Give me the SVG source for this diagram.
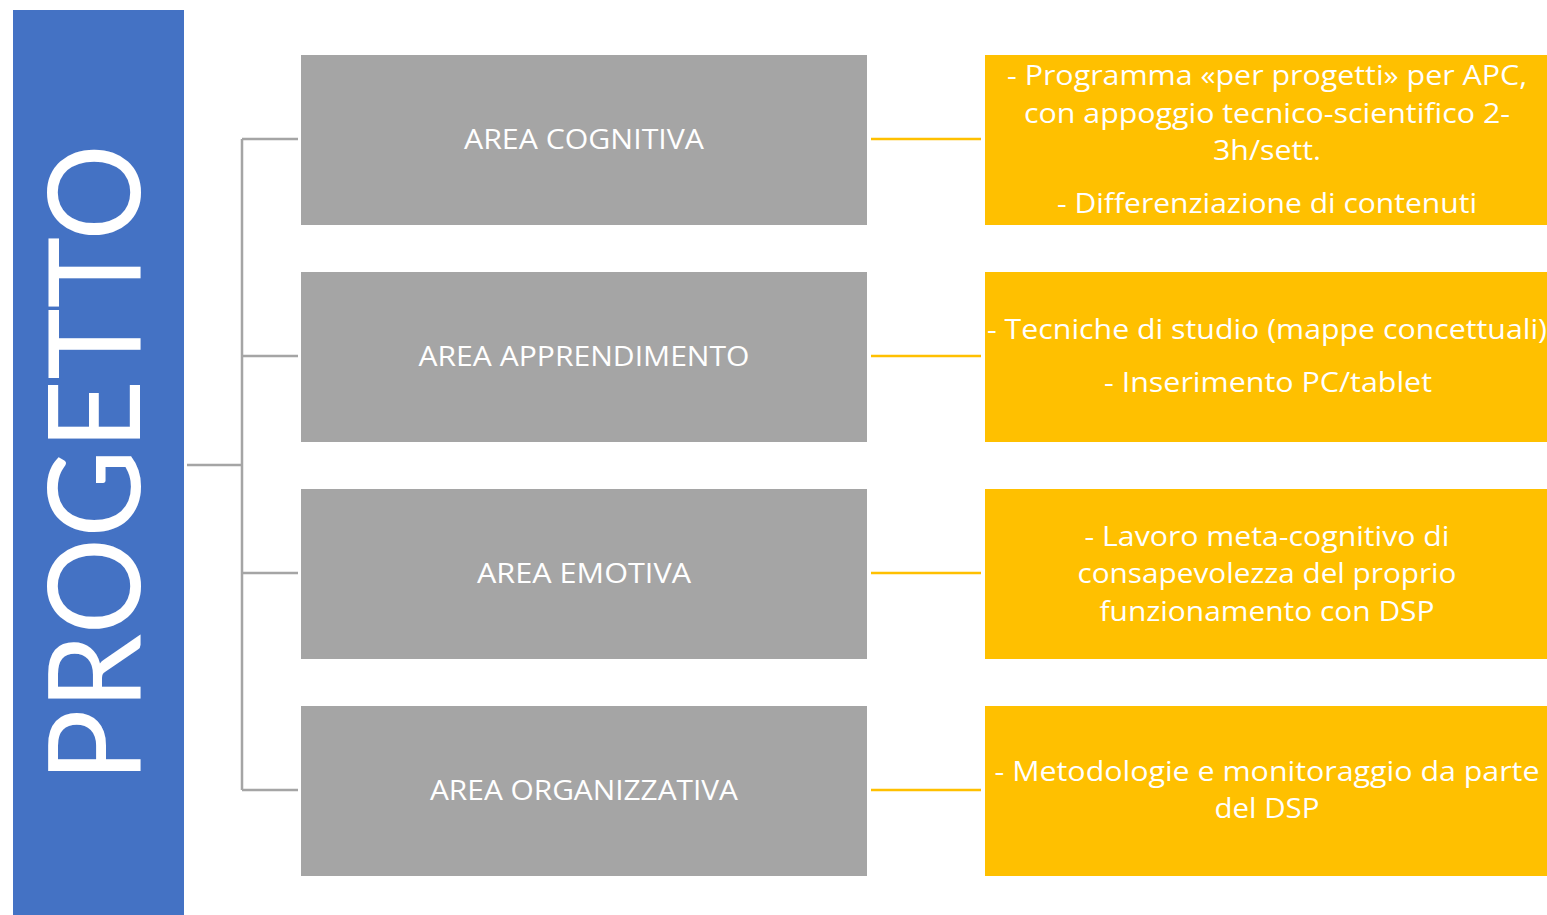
<svg xmlns="http://www.w3.org/2000/svg" width="1547" height="915" viewBox="0 0 1547 915">
<style>
.g{fill:#a5a5a5}
.y{fill:#ffc000}
.t{font-family:"Open Sans","Noto Sans","Liberation Sans",sans-serif;font-size:27px;fill:#ffffff;text-anchor:middle}
.cg{stroke:#a5a5a5;stroke-width:2.5;fill:none}
.cy{stroke:#ffc000;stroke-width:2.5;fill:none}
</style>
<rect width="1547" height="915" fill="#ffffff"/>
<g id="progetto">
<rect x="13" y="10" width="171" height="905" fill="#4472c4"/>
<text transform="translate(140,463) rotate(-90)" text-anchor="middle" font-family="Lato,'Open Sans',sans-serif" font-size="128" fill="#ffffff" textLength="638" lengthAdjust="spacingAndGlyphs">PROGETTO</text>
</g>
<g id="connectors">
<path class="cg" d="M187 465H242M242 139V790M242 139H298M242 356H298M242 573H298M242 790H298"/>
<path class="cy" d="M871 139H981M871 356H981M871 573H981M871 790H981"/>
</g>
<g id="area-cognitiva">
<rect class="g" x="301" y="55" width="566" height="170"/>
<text class="t" x="584" y="149" textLength="240" lengthAdjust="spacingAndGlyphs">AREA COGNITIVA</text>
</g>
<g id="area-apprendimento">
<rect class="g" x="301" y="272" width="566" height="170"/>
<text class="t" x="584" y="366" textLength="331" lengthAdjust="spacingAndGlyphs">AREA APPRENDIMENTO</text>
</g>
<g id="area-emotiva">
<rect class="g" x="301" y="489" width="566" height="170"/>
<text class="t" x="584" y="583" textLength="214" lengthAdjust="spacingAndGlyphs">AREA EMOTIVA</text>
</g>
<g id="area-organizzativa">
<rect class="g" x="301" y="706" width="566" height="170"/>
<text class="t" x="584" y="800" textLength="308" lengthAdjust="spacingAndGlyphs">AREA ORGANIZZATIVA</text>
</g>
<g id="detail-cognitiva">
<rect class="y" x="985" y="55" width="562" height="170"/>
<text class="t" x="1267" y="85" textLength="520" lengthAdjust="spacingAndGlyphs">- Programma «per progetti» per APC,</text>
<text class="t" x="1267" y="123" textLength="486" lengthAdjust="spacingAndGlyphs">con appoggio tecnico-scientifico 2-</text>
<text class="t" x="1267" y="160" textLength="108" lengthAdjust="spacingAndGlyphs">3h/sett.</text>
<text class="t" x="1267" y="213" textLength="420" lengthAdjust="spacingAndGlyphs">- Differenziazione di contenuti</text>
</g>
<g id="detail-apprendimento">
<rect class="y" x="985" y="272" width="562" height="170"/>
<text class="t" x="1267" y="339" textLength="560" lengthAdjust="spacingAndGlyphs">- Tecniche di studio (mappe concettuali)</text>
<text class="t" x="1268" y="392" textLength="328" lengthAdjust="spacingAndGlyphs">- Inserimento PC/tablet</text>
</g>
<g id="detail-emotiva">
<rect class="y" x="985" y="489" width="562" height="170"/>
<text class="t" x="1267" y="546" textLength="365" lengthAdjust="spacingAndGlyphs">- Lavoro meta-cognitivo di</text>
<text class="t" x="1267" y="583" textLength="379" lengthAdjust="spacingAndGlyphs">consapevolezza del proprio</text>
<text class="t" x="1267" y="621" textLength="335" lengthAdjust="spacingAndGlyphs">funzionamento con DSP</text>
</g>
<g id="detail-organizzativa">
<rect class="y" x="985" y="706" width="562" height="170"/>
<text class="t" x="1267" y="781" textLength="545" lengthAdjust="spacingAndGlyphs">- Metodologie e monitoraggio da parte</text>
<text class="t" x="1267" y="818" textLength="105" lengthAdjust="spacingAndGlyphs">del DSP</text>
</g>
</svg>
